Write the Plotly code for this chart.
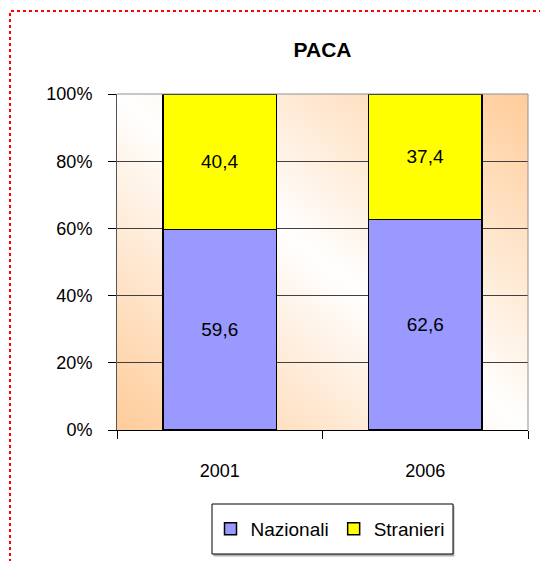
import base64
import struct
import zlib

import plotly.graph_objects as go

# ---------------- data ----------------
years = ["2001", "2006"]
nazionali = [59.6, 62.6]
stranieri = [40.4, 37.4]
series_names = ["Nazionali", "Stranieri"]
y_ticks = [0, 20, 40, 60, 80, 100]
y_ticktext = [f"{v}%" for v in y_ticks]

FONT = "Liberation Sans, Arial, sans-serif"


def fmt(v):
    return f"{v:.1f}".replace(".", ",")


# ---------------- background gradient image (decoration) ----------------
def gradient_png(w=160, h=160, peach=(255, 204, 153)):
    rows = []
    for j in range(h):
        v = 1 - (j + 0.5) / h
        row = bytearray([0])
        for i in range(w):
            u = (i + 0.5) / w
            t = abs(u + v - 1)
            row += bytes(int(round(255 * (1 - t) + c * t)) for c in peach)
        rows.append(bytes(row))
    raw = b"".join(rows)

    def chunk(tag, data):
        c = struct.pack(">I", len(data)) + tag + data
        return c + struct.pack(">I", zlib.crc32(tag + data) & 0xFFFFFFFF)

    png = b"\x89PNG\r\n\x1a\n"
    png += chunk(b"IHDR", struct.pack(">IIBBBBB", w, h, 8, 2, 0, 0, 0))
    png += chunk(b"IDAT", zlib.compress(raw, 9))
    png += chunk(b"IEND", b"")
    return "data:image/png;base64," + base64.b64encode(png).decode()


# page is offset by the 8px default body margin
W, H = 540, 553
PL, PR, PT, PB = 109, 520, 86, 422  # plot area in figure pixels
PW, PH = PR - PL, PB - PT


def px(xf):  # figure pixel x -> paper
    return (xf - PL) / PW


def py(yf):  # figure pixel y -> paper
    return (PB - yf) / PH


fig = go.Figure()
colors = ["#9999FF", "#FFFF00"]
for name, vals, col in zip(series_names, [nazionali, stranieri], colors):
    fig.add_trace(go.Bar(
        x=years, y=vals, name=name,
        marker=dict(color=col, line=dict(color="black", width=1.5)),
        text=[fmt(v) for v in vals], textposition="inside",
        insidetextanchor="middle", textangle=0,
        textfont=dict(color="black", size=19, family=FONT),
        width=0.55, hoverinfo="skip",
    ))

fig.update_layout(
    width=W, height=H,
    margin=dict(l=PL, r=W - PR, t=PT, b=H - PB),
    barmode="stack",
    paper_bgcolor="white",
    plot_bgcolor="white",
    font=dict(family=FONT, color="black", size=18),
    title=dict(text="<b>PACA</b>", x=(314.5) / W, xanchor="center",
               y=1 - 42 / H, yanchor="middle",
               font=dict(size=21, family=FONT, color="black")),
    showlegend=True,
    legend=dict(orientation="h", x=px(322), xanchor="center",
                y=py(521), yanchor="middle",
                borderwidth=0, bgcolor="rgba(0,0,0,0)",
                font=dict(size=19, family=FONT), traceorder="normal",
                itemwidth=30),
    xaxis=dict(type="category", tickson="boundaries", ticks="outside", ticklen=8,
               tickcolor="black", showline=True, linecolor="black", linewidth=1,
               showgrid=False, ticklabelstandoff=24,
               tickfont=dict(size=18, family=FONT)),
    yaxis=dict(range=[0, 100], tickvals=y_ticks, ticktext=y_ticktext,
               ticks="outside", ticklen=8, tickcolor="black", showline=True,
               linecolor="#555555", linewidth=1, showgrid=True,
               gridcolor="#404040", gridwidth=1, zeroline=False,
               ticklabelstandoff=12, tickfont=dict(size=18, family=FONT)),
    images=[dict(source=gradient_png(), xref="paper", yref="paper", x=0, y=1,
                 sizex=1, sizey=1, sizing="stretch", layer="below",
                 xanchor="left", yanchor="top")],
    shapes=[
        dict(type="line", xref="paper", yref="paper", x0=0, x1=1, y0=1, y1=1,
             line=dict(color="#909090", width=1), layer="above"),
        dict(type="line", xref="paper", yref="paper", x0=1, x1=1, y0=0, y1=1,
             line=dict(color="#909090", width=1), layer="above"),
        # legend shadow and box
        dict(type="rect", xref="paper", yref="paper",
             x0=px(206), x1=px(446), y0=py(498), y1=py(548),
             line=dict(color="#B0B0B0", width=1), fillcolor="#B0B0B0",
             layer="below"),
        dict(type="rect", xref="paper", yref="paper",
             x0=px(204), x1=px(445), y0=py(496), y1=py(546),
             line=dict(color="black", width=1), fillcolor="white",
             layer="below"),
        # outer dotted border
        dict(type="rect", xref="paper", yref="paper",
             x0=px(2), x1=px(W + 30), y0=py(H + 40), y1=py(3),
             line=dict(color="red", width=2, dash="dot"), layer="above"),
    ],
)

fig.write_html("out.html")
